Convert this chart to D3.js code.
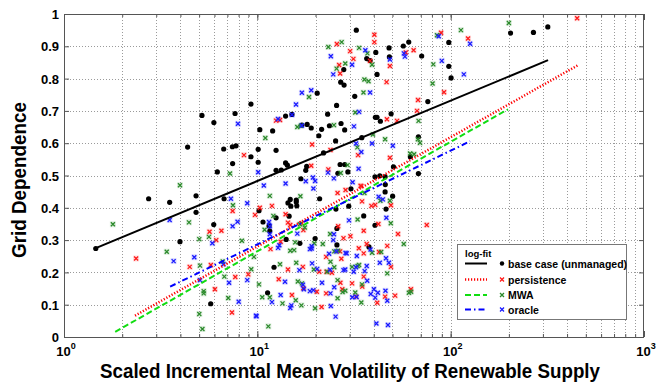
<!DOCTYPE html>
<html>
<head>
<meta charset="utf-8">
<script src="https://cdn.jsdelivr.net/npm/d3@7"></script>
<style>
  body { margin: 0; background: #fff; }
  text { font-family: "Liberation Sans", Arial, sans-serif; font-weight: bold; }
</style>
</head>
<body>
<script>
// ---- data ----
const basePts = [[1.46,0.274],[2.74,0.428],[3.52,0.417],[3.98,0.295],[4.36,0.588],[4.82,0.437],[4.82,0.386],[5.17,0.686],[5.96,0.664],[6.21,0.511],[5.95,0.348],[5.74,0.103],[7.67,0.692],[9.27,0.721],[6.70,0.582],[7.43,0.589],[7.76,0.592],[7.45,0.537],[6.73,0.428],[9.27,0.558],[10.3,0.642],[12.0,0.638],[10.1,0.581],[10.1,0.541],[12.5,0.578],[12.5,0.516],[13.3,0.517],[14.0,0.539],[14.3,0.532],[14.0,0.684],[15.1,0.689],[17.0,0.656],[18.1,0.658],[19.0,0.647],[20.4,0.755],[20.8,0.623],[21.5,0.643],[23.6,0.654],[23.1,0.690],[25.4,0.607],[22.0,0.570],[18.0,0.528],[17.8,0.516],[16.8,0.490],[14.8,0.426],[15.9,0.424],[21.0,0.428],[25.7,0.717],[27.1,0.661],[28.3,0.641],[26.8,0.534],[28.3,0.534],[26.1,0.507],[29.4,0.511],[27.0,0.789],[28.1,0.780],[28.0,0.828],[32.5,0.950],[31.9,0.745],[34.7,0.617],[36.8,0.862],[38.3,0.856],[41.0,0.881],[41.6,0.813],[40.8,0.680],[41.6,0.680],[43.3,0.668],[49.2,0.691],[48.0,0.895],[48.2,0.867],[50.6,0.527],[45.8,0.496],[43.0,0.499],[40.6,0.496],[45.9,0.472],[45.8,0.449],[56.9,0.901],[60.7,0.913],[70.8,0.870],[76.2,0.729],[68.1,0.620],[61.9,0.558],[68.1,0.506],[97.8,0.912],[97.8,0.838],[100.5,0.802],[204,0.941],[268,0.943],[318,0.960],[14.4,0.415],[15.9,0.418],[14.9,0.405],[16.0,0.406],[10.2,0.391],[10.7,0.356],[12.5,0.369],[14.6,0.374],[11.5,0.344],[11.6,0.328],[14.1,0.302],[16.6,0.290],[19.9,0.305],[12.2,0.216],[11.3,0.137],[25.8,0.336],[25.8,0.285],[25.5,0.396],[30.5,0.459],[29.7,0.405],[35.5,0.375],[50.1,0.436],[46.3,0.396],[40.6,0.346],[37.8,0.279]];

const persPts = [[2.36,0.243],[4.47,0.217],[5.66,0.326],[5.75,0.223],[6.13,0.300],[6.03,0.148],[7.45,0.390],[6.52,0.329],[7.69,0.186],[7.39,0.076],[9.73,0.378],[8.98,0.194],[8.53,0.563],[12.5,0.670],[13.1,0.672],[19.2,0.596],[19.0,0.530],[25.8,0.907],[26.5,0.842],[26.8,0.816],[30.2,0.885],[31.4,0.861],[38.3,0.855],[40.3,0.936],[40.3,0.913],[48.5,0.839],[46.6,0.789],[64.3,0.888],[58.6,0.881],[89.2,0.942],[92.4,0.758],[67.8,0.734],[67.0,0.700],[46.8,0.674],[52.8,0.669],[48.5,0.555],[23.9,0.579],[33.2,0.563],[23.3,0.519],[26.0,0.446],[28.6,0.455],[34.2,0.468],[11.9,0.406],[10.3,0.400],[14.0,0.380],[14.4,0.354],[14.8,0.347],[13.2,0.295],[11.7,0.272],[17.0,0.352],[17.3,0.331],[26.2,0.343],[27.9,0.306],[35.5,0.329],[34.5,0.467],[34.8,0.420],[38.9,0.406],[40.7,0.409],[49.1,0.408],[53.4,0.319],[75.2,0.347],[42.3,0.350],[26.8,0.265],[27.2,0.242],[14.4,0.209],[12.9,0.179],[20.9,0.202],[27.5,0.148],[35.5,0.187],[41.7,0.106],[21.5,0.093],[15.1,0.130],[51.6,0.128],[62.3,0.148],[42.6,0.263],[47.0,0.282],[36.8,0.288],[30.3,0.312],[33.5,0.275],[35.5,0.259],[49.1,0.217],[45.8,0.125],[32.4,0.125],[30.9,0.166],[34.9,0.156],[26.9,0.168],[22.7,0.135],[20.3,0.140],[17.3,0.151],[17.2,0.217],[22.8,0.202],[24.3,0.199],[22.7,0.248],[451,0.987],[123,0.924]];

const mwaPts = [[1.79,0.349],[3.40,0.264],[3.98,0.470],[4.43,0.355],[5.01,0.303],[5.05,0.221],[5.01,0.071],[5.28,0.142],[5.28,0.135],[5.20,0.025],[5.62,0.310],[7.48,0.408],[8.32,0.298],[6.75,0.187],[7.07,0.121],[9.6,0.248],[9.3,0.210],[10.2,0.163],[7.22,0.506],[6.62,0.234],[11.0,0.616],[18.5,0.743],[16.1,0.650],[16.8,0.654],[11.6,0.437],[16.7,0.436],[23.3,0.898],[27.3,0.913],[25.7,0.831],[28.5,0.847],[33.6,0.895],[37.1,0.878],[39.2,0.843],[35.8,0.797],[37.6,0.792],[35.4,0.757],[32.1,0.695],[24.9,0.656],[81.3,0.844],[85.0,0.934],[80.6,0.785],[68.2,0.669],[45.8,0.612],[39.6,0.627],[32.9,0.587],[29.3,0.532],[27.0,0.508],[35.8,0.446],[67.7,0.612],[69.4,0.601],[61.7,0.568],[64.7,0.566],[12.1,0.375],[10.9,0.332],[15.7,0.293],[14.8,0.267],[15.5,0.269],[19.7,0.290],[16.6,0.349],[17.6,0.339],[23.8,0.319],[33.0,0.364],[43.3,0.422],[48.5,0.422],[49.0,0.352],[57.2,0.288],[25.0,0.265],[26.2,0.267],[15.9,0.230],[13.1,0.225],[16.2,0.172],[19.6,0.209],[23.0,0.202],[25.0,0.216],[26.0,0.176],[27.6,0.139],[28.5,0.143],[30.9,0.217],[32.1,0.138],[34.5,0.107],[19.9,0.089],[15.8,0.114],[16.9,0.098],[13.5,0.104],[11.6,0.123],[10.6,0.123],[11.4,0.033],[43.7,0.263],[39.2,0.261],[33.0,0.220],[60.8,0.137],[62.4,0.140],[47.0,0.197],[33.6,0.223],[34.8,0.163],[26.0,0.120],[17.0,0.166],[23.9,0.233],[21.8,0.288],[113,0.950],[200,0.972]];

const oraclePts = [[3.52,0.362],[3.69,0.235],[4.72,0.247],[5.05,0.176],[5.85,0.290],[7.30,0.428],[7.90,0.357],[7.45,0.343],[7.14,0.168],[8.01,0.109],[8.87,0.414],[8.87,0.176],[9.85,0.066],[10.1,0.510],[6.68,0.225],[7.94,0.660],[12.8,0.675],[15.1,0.688],[15.85,0.720],[17.0,0.756],[19.0,0.764],[17.0,0.655],[10.8,0.469],[14.0,0.475],[17.8,0.482],[19.4,0.494],[19.9,0.483],[19.5,0.460],[24.0,0.869],[24.7,0.813],[30.9,0.843],[36.2,0.888],[48.5,0.859],[38.3,0.757],[33.6,0.697],[31.6,0.652],[57.3,0.878],[58.0,0.868],[90.0,0.855],[86.7,0.931],[39.2,0.599],[50.2,0.592],[32.4,0.599],[34.5,0.573],[33.4,0.521],[24.9,0.491],[23.2,0.509],[31.1,0.479],[44.6,0.426],[11.5,0.356],[11.6,0.343],[11.6,0.318],[13.0,0.284],[12.8,0.276],[18.7,0.272],[19.1,0.281],[16.1,0.320],[24.9,0.318],[29.8,0.361],[42.4,0.434],[46.5,0.369],[28.6,0.260],[29.0,0.259],[24.7,0.300],[16.5,0.207],[13.9,0.171],[17.2,0.162],[17.4,0.148],[20.4,0.211],[23.8,0.208],[27.9,0.207],[28.5,0.209],[25.0,0.154],[31.5,0.202],[40.7,0.122],[40.1,0.148],[32.6,0.124],[25.4,0.063],[24.0,0.096],[15.0,0.098],[14.8,0.090],[13.2,0.130],[11.9,0.108],[9.9,0.064],[46.0,0.143],[47.4,0.037],[41.3,0.042],[47.9,0.230],[43.0,0.230],[35.9,0.204],[38.5,0.271],[46.3,0.244],[32.7,0.251],[36.8,0.220],[32.4,0.216],[47.0,0.112],[42.0,0.137],[38.6,0.133],[31.0,0.123],[37.0,0.174],[23.9,0.135],[21.6,0.168],[18.7,0.142],[19.5,0.145],[19.2,0.228],[23.5,0.258],[25.6,0.265],[19.1,0.274],[117,0.813],[126,0.908]];

// log-fit lines: end points [x0, x1], [y0, y1]
const baseFitX = [1.46, 319],  baseFitY = [0.275, 0.857];
const persFitX = [2.33, 454],  persFitY = [0.066, 0.841];
const mwaFitX  = [1.84, 198],  mwaFitY  = [0.016, 0.705];
const oracFitX = [3.54, 126],  oracFitY = [0.156, 0.606];

const xMajor = [1, 10, 100, 1000];
const yTickVals = [0, 0.1, 0.2, 0.3, 0.4, 0.5, 0.6, 0.7, 0.8, 0.9, 1];
const legendLabels = ["base case (unmanaged)", "persistence", "MWA", "oracle"];

const xTitle = "Scaled Incremental Mean Volatility of Renewable Supply";
const yTitle = "Grid Dependence";

// ---- layout ----
const W = 657, H = 383;
const margin = {top: 14, right: 13, bottom: 46, left: 64};

const svg = d3.select("body").append("svg")
  .attr("width", W).attr("height", H);

const x = d3.scaleLog().domain([1, 1000]).range([margin.left, W - margin.right]);
const y = d3.scaleLinear().domain([0, 1]).range([H - margin.bottom, margin.top]);

const x0 = x.range()[0], x1 = x.range()[1], yb = y.range()[0], yt = y.range()[1];

// dotted grid (major + minor on x)
const xAll = x.ticks().filter(v => v > 1 && v < 1000);
const grid = svg.append("g").attr("stroke", "#9a9a9a").attr("stroke-dasharray", "1,2").attr("stroke-width", 1);
grid.selectAll(".gx").data(xAll).join("line")
  .attr("x1", d => Math.round(x(d)) + 0.5).attr("x2", d => Math.round(x(d)) + 0.5)
  .attr("y1", yt).attr("y2", yb);
grid.selectAll(".gy").data(yTickVals.filter(v => v > 0 && v < 1)).join("line")
  .attr("y1", d => Math.round(y(d)) + 0.5).attr("y2", d => Math.round(y(d)) + 0.5)
  .attr("x1", x0).attr("x2", x1);

// ticks (inside, all four sides)
const axisColor = "#555";
function ticks(axis, tx, ty) {
  return svg.append("g").attr("transform", `translate(${tx},${ty})`)
    .style("color", axisColor).call(axis)
    .call(g => g.select(".domain").remove());
}
ticks(d3.axisBottom(x).tickValues(x.ticks()).tickSize(-3).tickFormat(""), 0, yb);
ticks(d3.axisBottom(x).tickValues(xMajor).tickSize(-6).tickFormat(""), 0, yb);
ticks(d3.axisTop(x).tickValues(x.ticks()).tickSize(-3).tickFormat(""), 0, yt);
ticks(d3.axisTop(x).tickValues(xMajor).tickSize(-6).tickFormat(""), 0, yt);
ticks(d3.axisRight(y).tickValues(yTickVals).tickSize(-5).tickFormat(""), x1, 0);

const yAxis = ticks(d3.axisLeft(y).tickValues(yTickVals).tickSize(-5).tickPadding(5)
    .tickFormat(d => (d === 0 || d === 1) ? String(d) : d3.format(".1f")(d)), x0, 0);
yAxis.selectAll("text").attr("font-size", 13).attr("fill", "#000").attr("dy", "0.36em");

// x tick labels 10^n
const xl = svg.append("g").selectAll("text").data(xMajor).join("text")
  .attr("x", d => x(d) + 2).attr("y", yb + 19)
  .attr("text-anchor", "middle").attr("font-size", 13).attr("fill", "#000");
xl.append("tspan").text("10");
xl.append("tspan").attr("font-size", 9).attr("dy", -7).text(d => Math.round(Math.log10(d)));

// frame
svg.append("rect").attr("x", x0 + 0.5).attr("y", yt + 0.5)
  .attr("width", x1 - x0 - 1).attr("height", yb - yt)
  .attr("fill", "none").attr("stroke", axisColor).attr("stroke-width", 1);

// markers
const colRed = "#ff1a1a", colGreen = "#2b8a2b", colBlue = "#1a1aff";
function crosses(pts, col) {
  const g = svg.append("g");
  const m = g.selectAll("g").data(pts).join("g")
    .attr("transform", d => `translate(${x(d[0])},${y(d[1])})`);
  m.append("rect").attr("x", -3).attr("y", -3).attr("width", 6).attr("height", 6)
    .attr("fill", col).attr("opacity", 0.15);
  m.append("path").attr("d", "M-2,-2L2,2M-2,2L2,-2")
    .attr("stroke", col).attr("stroke-width", 1.3).attr("fill", "none");
}

svg.append("g").selectAll("circle").data(basePts).join("circle")
  .attr("cx", d => x(d[0])).attr("cy", d => y(d[1])).attr("r", 2.6).attr("fill", "#000");
crosses(persPts, colRed);
crosses(mwaPts, colGreen);
crosses(oraclePts, colBlue);

// fit lines
const line = d3.line().x(d => x(d[0])).y(d => y(d[1]));
const fits = [
  {xs: baseFitX, ys: baseFitY, col: "#000", w: 2, dash: null},
  {xs: persFitX, ys: persFitY, col: "#ff0000", w: 2.5, dash: "1.2,1.8"},
  {xs: mwaFitX,  ys: mwaFitY,  col: "#11dd11", w: 2, dash: "6,3"},
  {xs: oracFitX, ys: oracFitY, col: "#0000ff", w: 2, dash: "6,3,1.5,3"}
];
fits.forEach(f => {
  svg.append("path").datum(d3.zip(f.xs, f.ys)).attr("d", line)
    .attr("fill", "none").attr("stroke", f.col).attr("stroke-width", f.w)
    .attr("stroke-dasharray", f.dash);
});

// legend
const lg = svg.append("g").attr("transform", "translate(457,244)");
lg.append("rect").attr("x", 0.5).attr("y", 0.5).attr("width", 169).attr("height", 75)
  .attr("fill", "#fff").attr("stroke", "#777");
lg.append("text").attr("x", 8).attr("y", 13).attr("font-size", 9.5).attr("font-weight", "normal").text("log-fit");
const rowY = [19.5, 35.5, 51, 65.5];
const rows = lg.selectAll(".row").data(fits).join("g")
  .attr("transform", (d, i) => `translate(0,${rowY[i]})`);
rows.append("line").attr("x1", 8).attr("x2", 30).attr("y1", 0).attr("y2", 0)
  .attr("stroke", d => d.col).attr("stroke-width", d => d.w).attr("stroke-dasharray", d => d.dash);
rows.each(function(d, i) {
  const r = d3.select(this);
  if (i === 0) {
    r.append("circle").attr("cx", 45).attr("cy", 0).attr("r", 2.2).attr("fill", "#000");
  } else {
    const c = [colRed, colGreen, colBlue][i - 1];
    r.append("path").attr("d", "M43,-2L47,2M43,2L47,-2").attr("stroke", c).attr("stroke-width", 1.3);
  }
});
rows.append("text").attr("x", 51).attr("y", 4).attr("font-size", 10.5).attr("fill", "#000")
  .text((d, i) => legendLabels[i]);

// axis titles
svg.append("text").attr("x", 350).attr("y", 378).attr("text-anchor", "middle")
  .attr("font-size", 20).attr("textLength", 500).attr("lengthAdjust", "spacingAndGlyphs")
  .text(xTitle);
svg.append("text").attr("transform", "translate(26,180) rotate(-90)")
  .attr("text-anchor", "middle").attr("font-size", 20)
  .attr("textLength", 156).attr("lengthAdjust", "spacingAndGlyphs")
  .text(yTitle);
</script>
</body>
</html>
